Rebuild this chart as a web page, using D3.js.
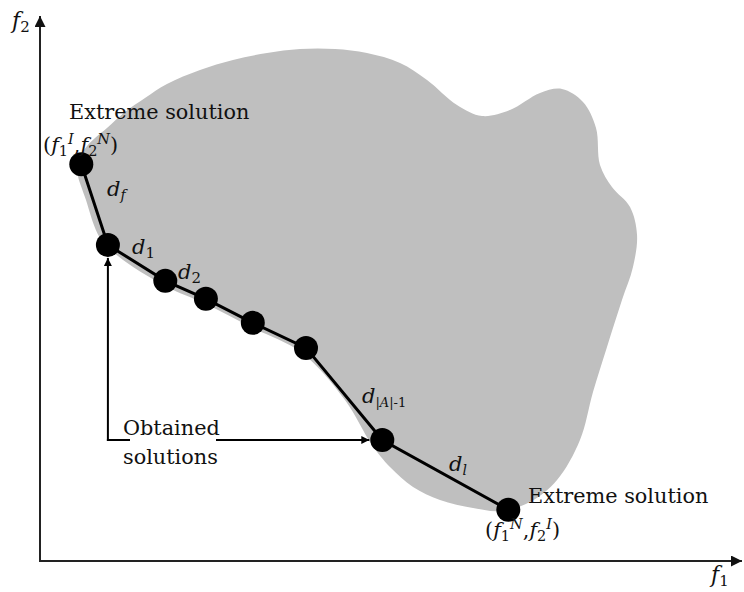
<!DOCTYPE html>
<html><head><meta charset="utf-8">
<script src="https://cdn.jsdelivr.net/npm/d3@7"></script>
<style>html,body{margin:0;padding:0;background:#fff}svg{display:block}</style>
</head><body>
<svg id="chart" width="744" height="592"></svg>
<script>
// Obtained solutions (objective space units, 0..10 on both axes)
const solutionF1 = [0.59, 0.97, 1.79, 2.37, 3.04, 3.80, 4.89, 6.69];
const solutionF2 = [7.28, 5.80, 5.14, 4.81, 4.37, 3.91, 2.22, 0.94];
// Feasible objective region outline
const regionF1 = [0.629,0.786,0.957,1.214,1.5,1.814,2.286,2.757,3.243,3.714,4.214,4.671,5.143,5.529,5.957,6.314,6.714,7.143,7.457,7.757,7.943,8.0,8.171,8.429,8.529,8.471,8.314,8.1,7.9,7.714,7.386,7.0,6.571,6.186,5.714,5.329,5.0,4.743,4.357,3.743,3.043,2.371,1.786,1.114,0.857,0.657,0.529];
const regionF2 = [7.541,7.761,7.945,8.239,8.495,8.752,9.009,9.193,9.321,9.394,9.394,9.321,9.138,8.826,8.367,8.165,8.275,8.587,8.661,8.422,7.945,7.266,6.862,6.495,5.982,5.394,4.789,3.927,3.101,2.220,1.486,1.083,0.917,0.972,1.119,1.358,1.725,2.128,2.954,3.817,4.275,4.716,5.046,5.596,5.927,6.624,7.211];
const axisDomain = [0, 10];

const svg = d3.select("#chart");
const x = d3.scaleLinear().domain(axisDomain).range([40, 740]);
const y = d3.scaleLinear().domain(axisDomain).range([561, 16]);
const FONT = "'DejaVu Serif', serif";

const defs = svg.append("defs");
function marker(id, w, h, color) {
  defs.append("marker").attr("id", id).attr("viewBox", "0 0 10 10")
    .attr("refX", 10).attr("refY", 5).attr("markerUnits", "userSpaceOnUse")
    .attr("markerWidth", w).attr("markerHeight", h).attr("orient", "auto")
    .append("path").attr("d", "M0,0L10,5L0,10Z").attr("fill", color);
}
marker("axArrow", 13, 11, "#111");
marker("arrow", 10, 8, "#000");

// region
const region = regionF1.map((v, i) => [x(v), y(regionF2[i])]);
svg.append("path").attr("d", d3.line().curve(d3.curveCatmullRomClosed.alpha(0.5))(region))
  .attr("fill", "#bfbfbf");

// axes
svg.append("line").attr("x1", x(0)).attr("y1", y(0)).attr("x2", x(0)).attr("y2", y(10))
  .attr("stroke", "#222").attr("stroke-width", 2).attr("marker-end", "url(#axArrow)");
svg.append("line").attr("x1", x(0) - 1).attr("y1", y(0)).attr("x2", x(10) + 2).attr("y2", y(0))
  .attr("stroke", "#222").attr("stroke-width", 2).attr("marker-end", "url(#axArrow)");

// solutions polyline
const pts = solutionF1.map((v, i) => [x(v), y(solutionF2[i])]);
svg.append("path").attr("d", d3.line()(pts)).attr("fill", "none")
  .attr("stroke", "#000").attr("stroke-width", 3);

// annotation arrows
const R = 12;
const p1 = pts[1], p6 = pts[6];
const corner = [p1[0], p6[1]];
svg.append("line").attr("x1", corner[0]).attr("y1", corner[1] + 1).attr("x2", p1[0]).attr("y2", p1[1] + R + 1)
  .attr("stroke", "#000").attr("stroke-width", 2).attr("marker-end", "url(#arrow)");
svg.append("line").attr("x1", corner[0] - 1).attr("y1", corner[1]).attr("x2", p6[0] - R - 1).attr("y2", p6[1])
  .attr("stroke", "#000").attr("stroke-width", 2).attr("marker-end", "url(#arrow)");
svg.append("rect").attr("x", 130).attr("y", 418).attr("width", 86).attr("height", 50).attr("fill", "#fff");

// points
svg.selectAll("circle.sol").data(pts).join("circle").attr("class", "sol")
  .attr("cx", d => d[0]).attr("cy", d => d[1]).attr("r", R).attr("fill", "#000");

// text helpers
function rich(xp, yp, parts, size) {
  const t = svg.append("text").attr("x", xp).attr("y", yp)
    .attr("font-family", FONT).attr("font-size", size).attr("fill", "#111");
  parts.forEach(p => {
    const s = t.append("tspan").text(p.t);
    if (p.i) s.attr("font-style", "italic");
    if (p.s) s.attr("font-size", p.s);
    if (p.dy) s.attr("dy", p.dy);
  });
  return t;
}
const TS = 20.8;
rich(69, 119, [{t: "Extreme solution"}], TS);
rich(528, 503, [{t: "Extreme solution"}], TS);
rich(123, 435, [{t: "Obtained"}], TS);
rich(123, 464, [{t: "solutions"}], TS);

rich(43, 152, [{t: "("}, {t: "f", i: 1}, {t: "1", s: 14.5, dy: 4}, {t: "I", i: 1, s: 14.5, dy: -12},
  {t: ",", dy: 8}, {t: "f", i: 1}, {t: "2", s: 14.5, dy: 4}, {t: "N", i: 1, s: 14.5, dy: -12}, {t: ")", dy: 8}], TS);
rich(485, 537, [{t: "("}, {t: "f", i: 1}, {t: "1", s: 14.5, dy: 4}, {t: "N", i: 1, s: 14.5, dy: -12},
  {t: ",", dy: 8}, {t: "f", i: 1}, {t: "2", s: 14.5, dy: 4}, {t: "I", i: 1, s: 14.5, dy: -12}, {t: ")", dy: 8}], TS);

const DS = 21;
rich(107, 196, [{t: "d", i: 1}, {t: "f", i: 1, s: 14, dy: 4}], DS);
rich(132, 254, [{t: "d", i: 1}, {t: "1", s: 15, dy: 4}], DS);
rich(178, 279, [{t: "d", i: 1}, {t: "2", s: 15, dy: 4}], DS);
rich(362, 403, [{t: "d", i: 1}, {t: "|", s: 13, dy: 4}, {t: "A", i: 1, s: 13}, {t: "|-1", s: 13}], DS);
rich(449, 471, [{t: "d", i: 1}, {t: "l", i: 1, s: 14, dy: 4}], DS);

rich(12, 28, [{t: "f", i: 1}, {t: "2", s: 15, dy: 4}], 22);
rich(711, 582, [{t: "f", i: 1}, {t: "1", s: 15, dy: 4}], 22);
</script>
</body></html>
